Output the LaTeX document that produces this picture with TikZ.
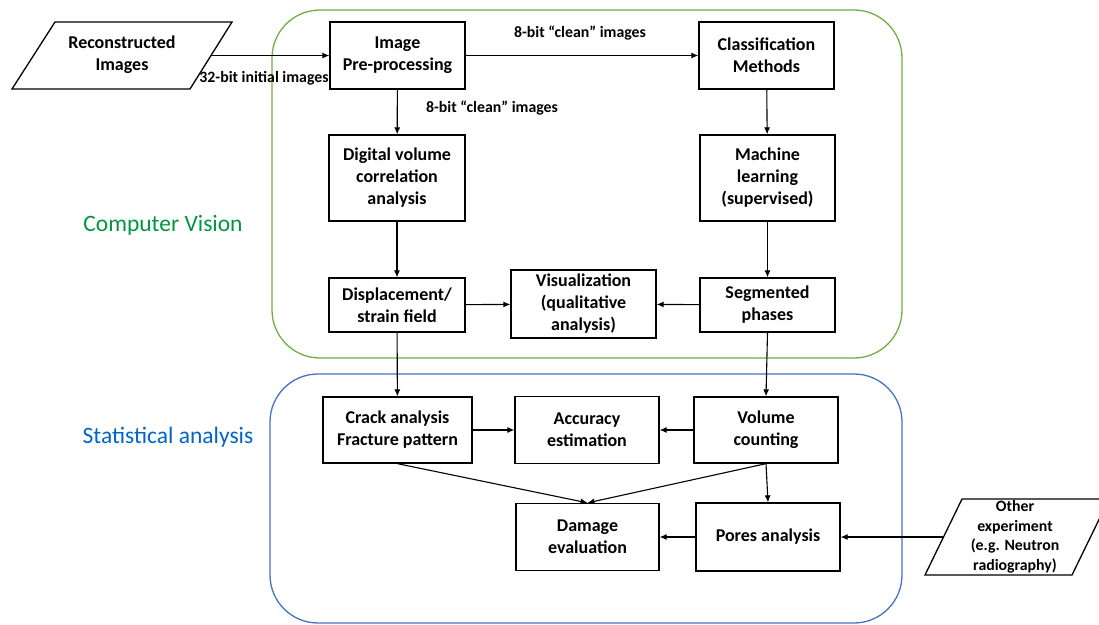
\documentclass[tikz,border=0pt]{standalone}
\usepackage{fontspec}
\setmainfont{Carlito}
\usetikzlibrary{arrows.meta}

\definecolor{cvline}{RGB}{112,173,71}
\definecolor{cvtext}{RGB}{0,150,62}
\definecolor{stline}{RGB}{68,114,196}
\definecolor{sttext}{RGB}{0,100,200}

\begin{document}
\begin{tikzpicture}[x=1pt, y=-1pt,
    box/.style={draw, line width=1.3pt, align=center, inner sep=1pt,
      font=\fontsize{18}{22}\selectfont\bfseries},
    lbl/.style={font=\fontsize{15.8}{19.5}\selectfont\bfseries, align=center},
    flow/.style={-{Latex[length=7pt,width=6pt]}, line width=1.1pt},
    region/.style={rounded corners=48pt, line width=1.3pt}]
  \useasboundingbox (0,0) rectangle (1099,624);

  % the two groups
  \draw[region, cvline] (272,10) rectangle (902,358);
  \draw[region, stline] (270,374) rectangle (902,623);
  \node[font=\fontsize{23.5}{28}\selectfont, text=cvtext] (cvname) at (163,225) {Computer Vision};
  \node[font=\fontsize{23.5}{28}\selectfont, text=sttext] (stname) at (168,437) {Statistical analysis};

  % inputs (parallelograms)
  \draw[line width=1.3pt] (55,22) -- (232,22) -- (190,89) -- (12,89) -- cycle;
  \node[box, draw=none] (recon) at (122,55) {Reconstructed\\Images};
  \coordinate (recon-out) at (212,55.5);

  \draw[line width=1.3pt] (962,499) -- (1109,499) -- (1072,575) -- (925,575) -- cycle;
  \node[lbl] (other) at (1015,537) {Other\\experiment\\(e.g. Neutron\\radiography)};
  \coordinate (other-out) at (943.5,537);

  % computer vision boxes
  \node[box, minimum width=135pt, minimum height=67pt] (pre) at (397.5,55.5) {Image\\Pre-processing};
  \node[box, minimum width=135pt, minimum height=67pt] (cls) at (766.5,55.5) {Classification\\Methods};
  \node[box, minimum width=136pt, minimum height=86pt] (dvc) at (397,178) {Digital volume\\correlation\\analysis};
  \node[box, minimum width=135pt, minimum height=86pt] (ml) at (767.5,178) {Machine\\learning\\(supervised)};
  \node[box, minimum width=136pt, minimum height=54pt] (disp) at (397,305) {Displacement/\\strain field};
  \node[box, minimum width=145pt, minimum height=68pt] (vis) at (583.5,304) {Visualization\\(qualitative\\analysis)};
  \node[box, minimum width=135pt, minimum height=54pt] (seg) at (767.5,305) {Segmented\\phases};

  % statistical analysis boxes
  \node[box, minimum width=149pt, minimum height=66pt] (crack) at (397.5,430) {Crack analysis\\Fracture pattern};
  \node[box, minimum width=144pt, minimum height=67pt] (acc) at (587,430) {Accuracy\\estimation};
  \node[box, minimum width=144pt, minimum height=66pt] (vol) at (766,430) {Volume\\counting};
  \node[box, minimum width=143pt, minimum height=67pt] (dmg) at (587.5,537) {Damage\\evaluation};
  \node[box, minimum width=144pt, minimum height=68pt] (pores) at (768,537) {Pores analysis};

  % connections
  \draw[flow] (recon-out) -- (pre);
  \draw[flow] (pre) -- (cls);
  \draw[flow] (pre) -- (dvc);
  \draw[flow] (cls) -- (ml);
  \draw[flow] (dvc) -- (disp);
  \draw[flow] (ml) -- (seg);
  \draw[flow] (disp) -- (vis);
  \draw[flow] (seg) -- (vis);
  \draw[flow] (disp) -- (crack);
  \draw[flow] (seg.south) -- (vol.north);
  \draw[flow] (crack) -- (acc);
  \draw[flow] (vol) -- (acc);
  \draw[flow] (crack.south) -- (dmg.north);
  \draw[flow] (vol.south) -- (dmg.north);
  \draw[flow] (vol.south) -- (pores.north);
  \draw[flow] (pores) -- (dmg);
  \draw[flow] (other-out) -- (pores);

  % arrow labels
  \node[lbl] (lbl32) at (264,78) {32-bit initial images};
  \node[lbl] (lbl8a) at (580,33) {8-bit “clean” images};
  \node[lbl] (lbl8b) at (492,108) {8-bit “clean” images};
\end{tikzpicture}
\end{document}
